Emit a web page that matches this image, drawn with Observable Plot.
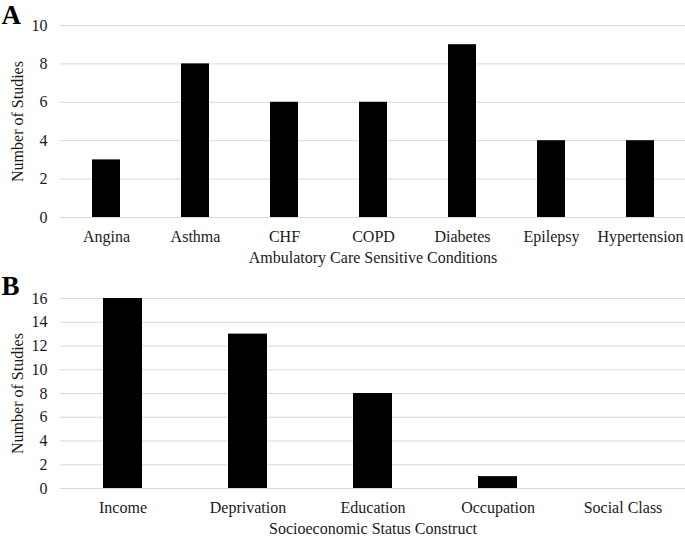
<!DOCTYPE html>
<html>
<head>
<meta charset="utf-8">
<script src="https://cdn.jsdelivr.net/npm/d3@7"></script>
<script src="https://cdn.jsdelivr.net/npm/@observablehq/plot@0.6"></script>
<style>
  html, body { margin: 0; padding: 0; background: #fff; }
  #chart { width: 685px; }
  #chart svg { display: block; }
</style>
</head>
<body>
<div id="chart"></div>
<script>
// Panel A data
const conditions = ["Angina", "Asthma", "CHF", "COPD", "Diabetes", "Epilepsy", "Hypertension"];
const conditionStudies = [3, 8, 6, 6, 9, 4, 4];
const ticksA = [0, 2, 4, 6, 8, 10];

// Panel B data
const constructs = ["Income", "Deprivation", "Education", "Occupation", "Social Class"];
const constructStudies = [16, 13, 8, 1, 0];
const ticksB = [0, 2, 4, 6, 8, 10, 12, 14, 16];

const FONT = "'Liberation Serif', 'Times New Roman', serif";
const TXT = "#1a1a1a";

function panel({letter, cats, vals, ticks, yMax, xLabel, height, marginTop, marginBottom, letterDy}) {
  const data = cats.map((c, i) => ({cat: c, n: vals[i]}));
  return Plot.plot({
    width: 685,
    height,
    marginLeft: 60,
    marginRight: 0,
    marginTop,
    marginBottom,
    style: {fontFamily: FONT, fontSize: "16px", color: TXT, background: "#fff"},
    x: {domain: cats, paddingInner: 0.69, paddingOuter: 0.345, axis: null},
    y: {domain: [0, yMax], axis: null},
    marks: [
      Plot.gridY(ticks, {stroke: "#d9d9d9", strokeOpacity: 1, strokeWidth: 1}),
      Plot.barY(data, {x: "cat", y: "n", fill: "#000"}),
      Plot.axisX({tickSize: 0, tickPadding: 13, label: null, fontSize: 16}),
      Plot.axisY(ticks, {tickSize: 0, tickPadding: 13, label: null, fontSize: 16, tickFormat: d => String(d)}),
      Plot.text([xLabel], {frameAnchor: "bottom", dy: 40, lineAnchor: "middle", fontSize: 16, fill: TXT}),
      Plot.text(["Number of Studies"], {frameAnchor: "left", dx: -43, rotate: -90, textAnchor: "middle", lineAnchor: "middle", fontSize: 16, fill: TXT}),
      Plot.text([letter], {frameAnchor: "top-left", dx: -59, dy: letterDy, textAnchor: "start", lineAnchor: "middle", fontSize: 27, fontWeight: "bold", fill: "#000"})
    ]
  });
}

const chart = document.getElementById("chart");
chart.appendChild(panel({
  letter: "A", cats: conditions, vals: conditionStudies, ticks: ticksA, yMax: 10,
  xLabel: "Ambulatory Care Sensitive Conditions",
  height: 270, marginTop: 25, marginBottom: 53, letterDy: -10
}));
chart.appendChild(panel({
  letter: "B", cats: constructs, vals: constructStudies, ticks: ticksB, yMax: 16,
  xLabel: "Socioeconomic Status Construct",
  height: 267, marginTop: 28, marginBottom: 49, letterDy: -12
}));
</script>
</body>
</html>
